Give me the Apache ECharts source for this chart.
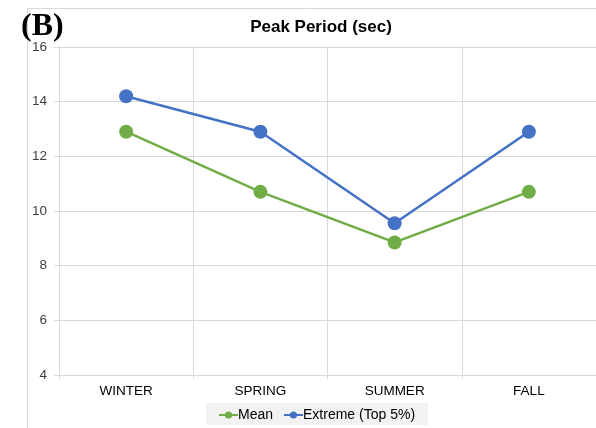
<!DOCTYPE html>
<html>
<head>
<meta charset="utf-8">
<script src="https://cdn.jsdelivr.net/npm/echarts@6/dist/echarts.min.js"></script>
<style>
  html, body { margin: 0; padding: 0; background: #fff; }
  #chart { width: 596px; height: 428px; }
</style>
</head>
<body>
<div id="chart"></div>
<script>
// Seasonal peak wave period (seconds)
const seasons = ['WINTER', 'SPRING', 'SUMMER', 'FALL'];
const meanPeriod = [12.9, 10.7, 8.85, 10.7];
const extremePeriod = [14.2, 12.9, 9.55, 12.9];
const yMin = 4;
const yMax = 16;
const yStep = 2;

const gridColor = '#d9d9d9';
const labelColor = '#404040';
const font = 'Liberation Sans, Arial, sans-serif';

const chart = echarts.init(document.getElementById('chart'));
chart.setOption({
  animation: false,
  backgroundColor: '#fff',
  title: {
    text: 'Peak Period (sec)',
    left: 316,
    textAlign: 'center',
    top: 14,
    textStyle: { fontFamily: font, fontSize: 17, fontWeight: 'bold', color: '#000' }
  },
  graphic: [
    { type: 'line', shape: { x1: 27.5, y1: 8, x2: 27.5, y2: 428 }, style: { stroke: gridColor, lineWidth: 1 } },
    { type: 'line', shape: { x1: 27, y1: 8.5, x2: 596, y2: 8.5 }, style: { stroke: gridColor, lineWidth: 1 } },
    { type: 'rect', shape: { x: 206, y: 403, width: 222, height: 22 }, style: { fill: '#f2f2f2' }, z: -1 },
    { type: 'text', left: 21, top: 11, style: { text: '(B)', font: 'bold 32px "Liberation Serif", "Times New Roman", serif', fill: '#000' } }
  ],
  legend: {
    top: 403,
    left: 213,
    itemWidth: 19,
    itemHeight: 9,
    itemGap: 10,
    textStyle: { fontFamily: font, fontSize: 14, color: '#000', padding: [0, 0, 0, -5] },
    data: ['Mean', 'Extreme (Top 5%)']
  },
  grid: { left: 59, right: 0, top: 47, bottom: 53, containLabel: false },
  xAxis: {
    type: 'category',
    data: seasons,
    boundaryGap: true,
    axisLine: { show: true, lineStyle: { color: gridColor } },
    axisTick: { show: true, length: 4, lineStyle: { color: gridColor } },
    axisLabel: { fontFamily: font, fontSize: 13.5, color: '#000', margin: 9 },
    splitLine: { show: true, lineStyle: { color: gridColor } }
  },
  yAxis: {
    type: 'value',
    min: yMin,
    max: yMax,
    interval: yStep,
    axisLine: { show: true, lineStyle: { color: gridColor } },
    axisTick: { show: true, length: 5, lineStyle: { color: gridColor } },
    axisLabel: { fontFamily: font, fontSize: 13.5, color: labelColor, margin: 12 },
    splitLine: { show: true, lineStyle: { color: gridColor } }
  },
  series: [
    {
      name: 'Mean',
      type: 'line',
      data: meanPeriod,
      symbol: 'circle',
      symbolSize: 14,
      itemStyle: { color: '#70ad47' },
      lineStyle: { color: '#70ad47', width: 2.5 }
    },
    {
      name: 'Extreme (Top 5%)',
      type: 'line',
      data: extremePeriod,
      symbol: 'circle',
      symbolSize: 14,
      itemStyle: { color: '#4472c4' },
      lineStyle: { color: '#4472c4', width: 2.5 }
    }
  ]
});
</script>
</body>
</html>
